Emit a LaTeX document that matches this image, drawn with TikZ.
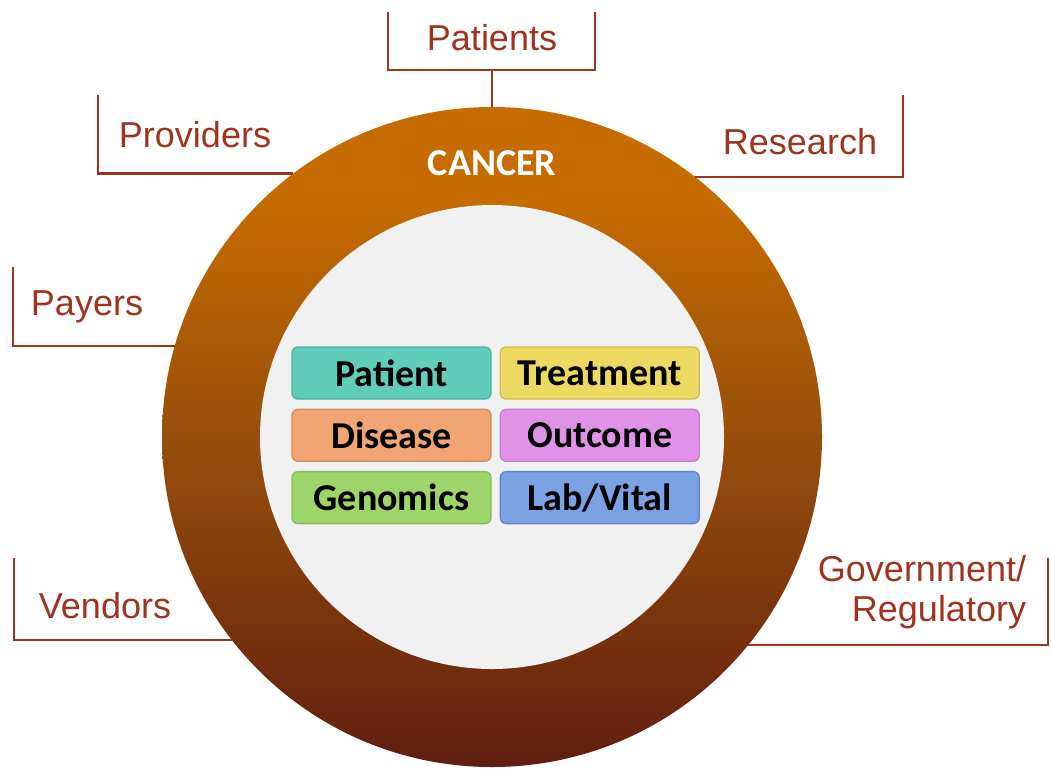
\documentclass[tikz,border=0pt]{standalone}
\usepackage{fontspec}
\setmainfont{Liberation Sans}
\newfontfamily\boxfont{Carlito}
\usetikzlibrary{positioning}
\definecolor{labelred}{RGB}{158,52,30}
\definecolor{ringtop}{RGB}{198,107,0}
\definecolor{ringmid}{RGB}{152,79,11}
\definecolor{ringbot}{RGB}{96,30,16}
\definecolor{diskgray}{RGB}{241,241,241}
\definecolor{patfill}{RGB}{95,205,185}\definecolor{patline}{RGB}{76,179,160}
\definecolor{trtfill}{RGB}{236,217,96}\definecolor{trtline}{RGB}{207,187,75}
\definecolor{disfill}{RGB}{240,165,114}\definecolor{disline}{RGB}{211,138,88}
\definecolor{outfill}{RGB}{224,146,232}\definecolor{outline}{RGB}{199,124,207}
\definecolor{genfill}{RGB}{158,213,107}\definecolor{genline}{RGB}{136,188,87}
\definecolor{labfill}{RGB}{122,162,229}\definecolor{labline}{RGB}{95,134,200}
\pgfdeclareverticalshading{ringshade}{100bp}{color(0bp)=(ringbot); color(25bp)=(ringbot); color(50bp)=(ringmid); color(68bp)=(ringtop); color(100bp)=(ringtop)}
\tikzset{
  party/.style={text=labelred, font=\fontsize{36}{40}\selectfont, inner sep=0pt},
  bracket/.style={draw=labelred, line width=2.2pt},
  catbox/.style={rounded corners=6pt, line width=1.3pt, minimum width=199pt, minimum height=52pt,
    inner sep=0pt, font=\boxfont\bfseries\fontsize{38}{40}\selectfont}
}
\begin{document}
\begin{tikzpicture}[x=1pt, y=-1pt]
\useasboundingbox (0,0) rectangle (1051,772);
% ring and disk
\node [circle, minimum size=660pt, inner sep=0pt, outer sep=0pt, shading=ringshade] (ring) at (492,437) {};
\node [circle, minimum size=464pt, inner sep=0pt, fill=diskgray] (disk) at (ring.center) {};
\node [text=white, font=\boxfont\bfseries\fontsize{38}{40}\selectfont] (cancer) at (492,163) {CANCER};
% stakeholders
\node [party] (patients) at (492,38) {Patients};
\node [party] (providers) at (195,135) {Providers};
\node [party] (research) at (800,142) {Research};
\node [party] (payers) at (87,307) {Payers};
\node [party] (vendors) at (105,606) {Vendors};
\node [party, align=right] (govt) at (922,592) {Government/\\Regulatory};
\coordinate (patbase) at (492,70);
\draw [bracket] (388,12) |- (595,70) -- (595,12);
\draw [bracket] (patbase) -- (ring.north);
\draw [bracket] (98,95) |- (ring.127.5);
\draw [bracket] (903,95) |- (ring.52.5);
\draw [bracket] (13,267) |- (ring.164.35);
\draw [bracket] (14,558) |- (ring.218.4);
\draw [bracket] (1048,558) |- (ring.321.6);
% data categories
\node [catbox, fill=patfill, draw=patline] (patient) at (391.5,373) {Patient};
\node [catbox, fill=trtfill, draw=trtline, right=8pt of patient] (treatment) {Treatment};
\node [catbox, fill=disfill, draw=disline, below=9pt of patient] (disease) {Disease};
\node [catbox, fill=outfill, draw=outline, right=8pt of disease] (outcome) {Outcome};
\node [catbox, fill=genfill, draw=genline, below=9pt of disease] (genomics) {Genomics};
\node [catbox, fill=labfill, draw=labline, right=8pt of genomics] (labvital) {Lab/Vital};
\end{tikzpicture}
\end{document}
